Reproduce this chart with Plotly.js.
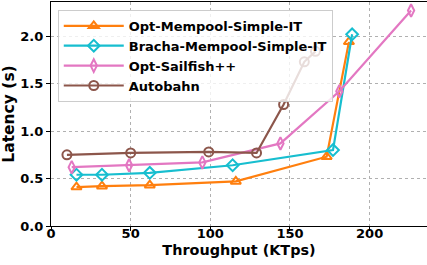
<!DOCTYPE html>
<html><head><meta charset="utf-8">
<script src="https://cdn.plot.ly/plotly-3.0.1.min.js"></script>
<style>html,body{margin:0;padding:0;background:#fff}#chart{width:427px;height:265px}</style>
</head><body><div id="chart"></div>
<script>
const seriesNames = ["Opt-Mempool-Simple-IT","Bracha-Mempool-Simple-IT","Opt-Sailfish++","Autobahn"];
const optMempoolX = [16, 32, 62, 116, 173, 187];
const optMempoolY = [0.41, 0.42, 0.43, 0.47, 0.73, 1.94];
const brachaX = [16, 32, 62, 114, 177, 189];
const brachaY = [0.54, 0.54, 0.56, 0.64, 0.80, 2.02];
const sailfishX = [13, 49, 95, 144, 181, 226];
const sailfishY = [0.62, 0.64, 0.67, 0.87, 1.42, 2.27];
const autobahnX = [10, 50, 99, 129, 146, 159, 166];
const autobahnY = [0.75, 0.77, 0.78, 0.77, 1.28, 1.73, 1.84];
const xTicks = [0, 50, 100, 150, 200];
const yTicks = [0, 0.5, 1, 1.5, 2];
const yTickText = ["0.0","0.5","1.0","1.5","2.0"];
const colors = ["#ff7f0e","#17becf","#e377c2","#8c564b"];
const symbols = ["triangle-up-open","diamond-open","diamond-tall-open","circle-open"];
const xs = [optMempoolX, brachaX, sailfishX, autobahnX];
const ys = [optMempoolY, brachaY, sailfishY, autobahnY];
const traces = seriesNames.map((n,i)=>({
  x: xs[i], y: ys[i], name: n, type: 'scatter', mode: 'lines+markers',
  line: {color: colors[i], width: 2.2},
  marker: {symbol: symbols[i], size: 9, color: colors[i], line: {color: colors[i], width: 2}}
}));
traces.push({x: [], y: [], xaxis: 'x2', yaxis: 'y2', type: 'scatter', mode: 'markers', showlegend: false, hoverinfo: 'skip'});
const tf = {family: "DejaVu Sans", size: 13, color: '#000'};
const layout = {
  width: 427, height: 265,
  margin: {l: 51, r: 0, t: 2, b: 39},
  paper_bgcolor: "#fff", plot_bgcolor: "#fff",
  font: {family: "DejaVu Sans", size: 13, color: "#000"},
  showlegend: true,
  legend: {x: 0.018, y: 0.965, xanchor: 'left', yanchor: 'top',
    bgcolor: 'rgba(255,255,255,0.8)', bordercolor: '#cccccc', borderwidth: 1,
    font: {family: "DejaVu Sans", size: 13, color: "#000", weight: 'bold'},
    tracegroupgap: 0, itemwidth: 60},
  xaxis: {range: [0, 236], tickvals: xTicks, ticktext: xTicks.map(v=>'<b>'+v+'</b>'),
    showgrid: true, gridcolor: '#b0b0b0', griddash: 'dot', gridwidth: 1,
    showline: true, linecolor: '#000', linewidth: 1.2, mirror: true,
    ticks: '', zeroline: false, ticklabelstandoff: -5,
    tickfont: tf,
    title: {text: "<b>Throughput (KTps)</b>", font: {family: "DejaVu Sans", size: 14.4}, standoff: 5}},
  yaxis: {range: [0, 2.36], tickvals: yTicks, ticktext: yTickText.map(v=>'<b>'+v+'</b>'),
    showgrid: true, gridcolor: '#b0b0b0', griddash: 'dot', gridwidth: 1,
    showline: true, linecolor: '#000', linewidth: 1.2, mirror: true,
    ticks: 'outside', ticklen: 4, tickcolor: '#000', zeroline: false,
    tickfont: tf,
    title: {text: "<b>Latency (s)</b>", font: {family: "DejaVu Sans", size: 15.5}, standoff: 3}},
  xaxis2: {overlaying: 'x', matches: 'x', range: [0, 236], tickvals: xTicks, showticklabels: false,
    ticks: 'outside', ticklen: 4, tickcolor: '#000', showgrid: false, zeroline: false, showline: false, side: 'bottom', anchor: 'y2'},
  yaxis2: {overlaying: 'y', range: [0, 2.36], showticklabels: false, showgrid: false, zeroline: false, showline: false, ticks: ''}
};
Plotly.newPlot('chart', traces, layout, {displayModeBar: false, staticPlot: true});
</script></body></html>
